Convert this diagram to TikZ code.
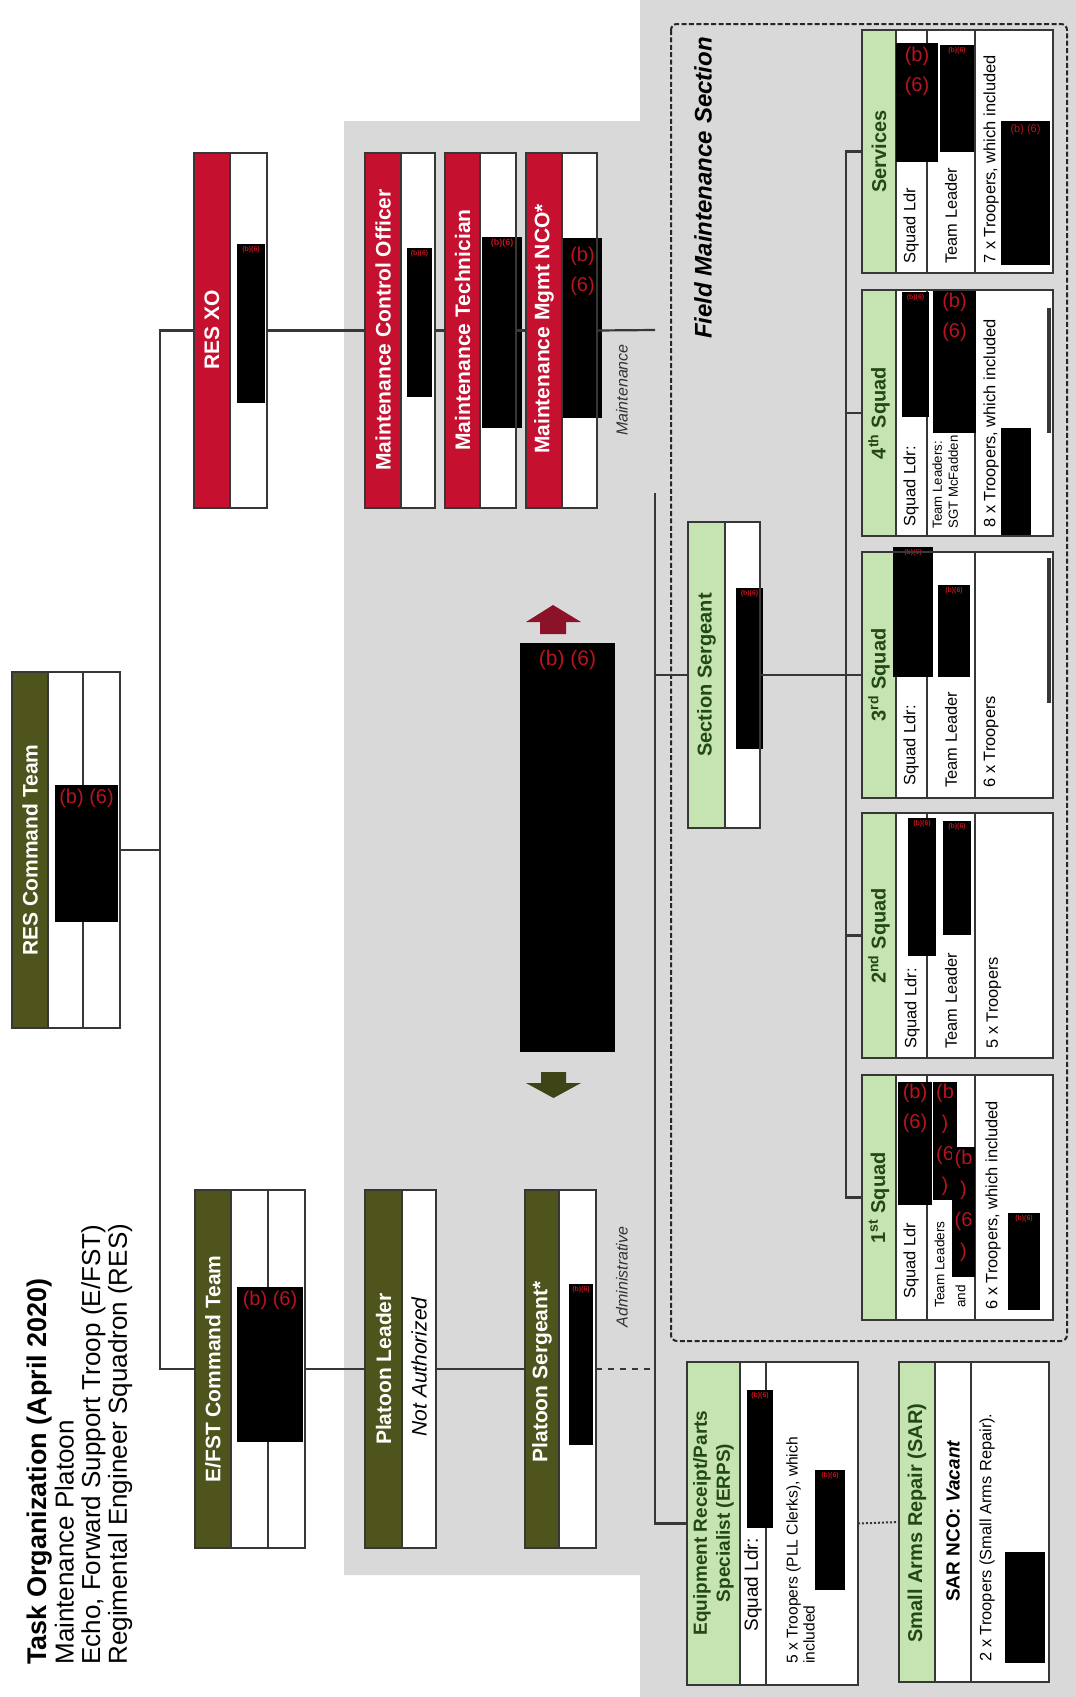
\documentclass[tikz,border=0pt]{standalone}
\usepackage{fontspec}
\setmainfont{Liberation Sans}
\usetikzlibrary{fit}
\definecolor{olivebox}{RGB}{79,84,28}
\definecolor{redbox}{RGB}{198,16,48}
\definecolor{greenbox}{RGB}{198,228,178}
\definecolor{bggray}{RGB}{217,217,217}
\definecolor{lineclr}{RGB}{55,55,55}
\definecolor{redact}{RGB}{185,20,30}
\definecolor{greentext}{RGB}{34,72,22}
\definecolor{arrowred}{RGB}{140,18,42}
\definecolor{arrowolive}{RGB}{62,68,22}
\begin{document}
\begin{tikzpicture}[x=0.5pt,y=-0.5pt,
  boxbg/.style={fill=white,inner sep=0pt,outer sep=0pt},
  boxline/.style={draw=lineclr,line width=1.1pt},
  divline/.style={draw=lineclr,line width=0.8pt},
  conn/.style={draw=lineclr,line width=1.1pt},
  vtext/.style={rotate=90,inner sep=0pt},
  striptxt/.style={vtext,text=white,font=\bfseries\fontsize{10.5}{12}\selectfont},
  greentxt/.style={vtext,text=greentext,align=center,font=\bfseries\fontsize{10}{11.5}\selectfont},
  coltxt/.style={vtext,anchor=west,font=\fontsize{8.2}{9.5}\selectfont},
  smalltxt/.style={vtext,anchor=north west,align=left,font=\fontsize{6.6}{8}\selectfont},
  redlbl/.style={text=redact,anchor=north,inner sep=0pt,align=center,font=\fontsize{10}{15}\selectfont},
  tinylbl/.style={text=redact,anchor=north,inner sep=0pt,font=\bfseries\fontsize{3.5}{4}\selectfont},
  linelbl/.style={vtext,font=\itshape\fontsize{8}{9.5}\selectfont,text=black!80},
]
% background
\fill[white] (0,0) rectangle (1076,1697);
\useasboundingbox (0,0) rectangle (1076,1697);
\fill[bggray] (344,121) -- (640,121) -- (640,0) -- (1076,0) -- (1076,1697) -- (640,1697) -- (640,1575) -- (344,1575) -- cycle;

% title
\node[vtext,anchor=north west,align=left,font=\fontsize{13}{13.3}\selectfont] (title) at (27,1665)
  {{\bfseries\fontsize{13.5}{13.3}\selectfont Task Organization (April 2020)}\\Maintenance Platoon\\Echo, Forward Support Troop (E/FST)\\Regimental Engineer Squadron (RES)};

% RES Command Team
\node[boxbg,fit={(12,672) (120,1028)}] (rescmd) {};
\fill[olivebox] (12,672) rectangle (48,1028);
\draw[divline] (48,672) -- (48,1028) (83,672) -- (83,1028);
\node[striptxt] (rescmd-t) at (30,850) {RES Command Team};
\fill[black] (55,785) rectangle (118,922);
\node[redlbl] (rescmd-r) at (86.5,789) {(b) (6)};
\draw[boxline] (12,672) rectangle (120,1028);

% RES XO
\node[boxbg,fit={(194,153) (267,508)}] (resxo) {};
\fill[redbox] (194,153) rectangle (230,508);
\draw[divline] (230,153) -- (230,508);
\node[striptxt] (resxo-t) at (212,330) {RES XO};
\fill[black] (237,244) rectangle (265,403);
\node[tinylbl] (resxo-r) at (251,246) {(b)(6)};
\draw[boxline] (194,153) rectangle (267,508);

% E/FST Command Team
\node[boxbg,fit={(195,1190) (305,1548)}] (efst) {};
\fill[olivebox] (195,1190) rectangle (231,1548);
\draw[divline] (231,1190) -- (231,1548) (268,1190) -- (268,1548);
\node[striptxt] (efst-t) at (213,1369) {E/FST Command Team};
\fill[black] (237,1287) rectangle (303,1442);
\node[redlbl] (efst-r) at (270,1291) {(b) (6)};
\draw[boxline] (195,1190) rectangle (305,1548);

% Platoon Leader
\node[boxbg,fit={(365,1190) (436,1548)}] (pl) {};
\fill[olivebox] (365,1190) rectangle (402,1548);
\draw[divline] (402,1190) -- (402,1548);
\node[striptxt] (pl-t) at (383.5,1369) {Platoon Leader};
\node[vtext,font=\itshape\fontsize{10.5}{12}\selectfont] (pl-na) at (419,1367) {Not Authorized};
\draw[boxline] (365,1190) rectangle (436,1548);

% Platoon Sergeant
\node[boxbg,fit={(525,1190) (596,1548)}] (psg) {};
\fill[olivebox] (525,1190) rectangle (559,1548);
\draw[divline] (559,1190) -- (559,1548);
\node[striptxt] (psg-t) at (542,1372) {Platoon Sergeant*};
\fill[black] (569,1284) rectangle (593,1445);
\node[tinylbl] (psg-r) at (581,1286) {(b)(6)};
\draw[boxline] (525,1190) rectangle (596,1548);

% Maintenance Control Officer
\node[boxbg,fit={(365,153) (435,508)}] (mco) {};
\fill[redbox] (365,153) rectangle (401,508);
\draw[divline] (401,153) -- (401,508);
\node[striptxt] (mco-t) at (383,330) {Maintenance Control Officer};
\fill[black] (407,248) rectangle (432,397);
\node[tinylbl] (mco-r) at (419.5,250) {(b)(6)};
\draw[boxline] (365,153) rectangle (435,508);

% Maintenance Technician
\node[boxbg,fit={(445,153) (516,508)}] (mt) {};
\fill[redbox] (445,153) rectangle (480,508);
\draw[divline] (480,153) -- (480,508);
\node[striptxt] (mt-t) at (462.5,330) {Maintenance Technician};
\fill[black] (482,237) rectangle (522,428);
\node[tinylbl,font=\bfseries\fontsize{4.5}{5}\selectfont] (mt-r) at (502,239) {(b)(6)};
\draw[boxline] (445,153) rectangle (516,508);

% Maintenance Mgmt NCO
\node[boxbg,fit={(526,153) (597,508)}] (mnco) {};
\fill[redbox] (526,153) rectangle (562,508);
\draw[divline] (562,153) -- (562,508);
\node[striptxt] (mnco-t) at (544,329) {Maintenance Mgmt NCO*};
\fill[black] (563,238) rectangle (602,418);
\node[redlbl] (mnco-r) at (582.5,247) {(b)\\(6)};
\draw[boxline] (526,153) rectangle (597,508);

% central redaction and arrows
\fill[black] (520,643) rectangle (615,1052);
\node[redlbl,font=\fontsize{10.5}{12}\selectfont] (mid-r) at (567.5,650) {(b) (6)};
\fill[arrowred] (553,605) -- (581,622) -- (566,622) -- (566,634) -- (540,634) -- (540,622) -- (526,622) -- cycle;
\fill[arrowolive] (541,1072) -- (566,1072) -- (566,1083) -- (581,1083) -- (553.5,1098) -- (526,1083) -- (541,1083) -- cycle;

% Field Maintenance Section frame
\draw[black!85,line width=1pt,dash pattern=on 2.5pt off 1.2pt,rounded corners=3pt] (671,24) rectangle (1067,1341);
\node[vtext,font=\bfseries\itshape\fontsize{12}{13}\selectfont] (fms-t) at (703,188) {Field Maintenance Section};

% Section Sergeant
\node[boxbg,fit={(688,522) (760,828)}] (secsgt) {};
\fill[greenbox] (688,522) rectangle (725,828);
\draw[divline] (725,522) -- (725,828);
\node[greentxt] (secsgt-t) at (706.5,675) {Section Sergeant};
\fill[black] (736,588) rectangle (763,749);
\node[tinylbl] (secsgt-r) at (749.5,590) {(b)(6)};
\draw[boxline] (688,522) rectangle (760,828);

% Services
\node[boxbg,fit={(862,30) (1053,273)}] (services) {};
\fill[greenbox] (862,30) rectangle (896,273);
\draw[divline] (896,30) -- (896,273) (927,30) -- (927,273) (975,30) -- (975,273);
\node[greentxt] (sv-t) at (879,151.5) {Services};
\node[coltxt] (sv-c2) at (911,264) {Squad Ldr};
\node[coltxt] (sv-c3) at (951,264) {Team Leader};
\node[coltxt] (sv-c4) at (991,264) {7 x Troopers, which included};
\fill[black] (896,43) rectangle (938,162);
\node[redlbl] (sv-r2) at (917,47) {(b)\\(6)};
\fill[black] (940,45) rectangle (974,152);
\node[tinylbl] (sv-r3) at (957,47) {(b)(6)};
\fill[black] (1001,121) rectangle (1050,265);
\node[redlbl,font=\fontsize{5.5}{6}\selectfont] (sv-r4) at (1025.5,124) {(b) (6)};
\draw[boxline] (862,30) rectangle (1053,273);

% 4th Squad
\node[boxbg,fit={(862,290) (1053,536)}] (sq4) {};
\fill[greenbox] (862,290) rectangle (896,536);
\draw[divline] (896,290) -- (896,536) (927,290) -- (927,536) (975,290) -- (975,536);
\node[greentxt] (s4-t) at (879,413) {4\textsuperscript{th} Squad};
\node[coltxt] (s4-c2) at (911,527) {Squad Ldr:};
\node[smalltxt] (s4-c3) at (932,529) {Team Leaders:\\SGT McFadden};
\node[coltxt] (s4-c4) at (991,528) {8 x Troopers, which included};
\fill[black] (902,292) rectangle (929,417);
\node[tinylbl] (s4-r2) at (915.5,294) {(b)(6)};
\fill[black] (933,290) rectangle (976,433);
\node[redlbl] (s4-r3) at (954.5,293) {(b)\\(6)};
\fill[black] (1001,428) rectangle (1031,536);
\draw[lineclr,line width=1.8pt] (1049,308) -- (1049,433);
\draw[boxline] (862,290) rectangle (1053,536);

% 3rd Squad
\node[boxbg,fit={(862,552) (1053,798)}] (sq3) {};
\fill[greenbox] (862,552) rectangle (896,798);
\draw[divline] (896,552) -- (896,798) (927,552) -- (927,798) (975,552) -- (975,798);
\node[greentxt] (s3-t) at (879,675) {3\textsuperscript{rd} Squad};
\node[coltxt] (s3-c2) at (911,786) {Squad Ldr:};
\node[coltxt] (s3-c3) at (951,788) {Team Leader};
\node[coltxt] (s3-c4) at (991,788) {6 x Troopers};
\fill[black] (893,547) rectangle (933,677);
\node[tinylbl] (s3-r2) at (913,549) {(b)(6)};
\fill[black] (938,585) rectangle (970,677);
\node[tinylbl] (s3-r3) at (954,587) {(b)(6)};
\draw[lineclr,line width=1.8pt] (1049,558) -- (1049,703);
\draw[boxline] (862,552) rectangle (1053,798);

% 2nd Squad
\node[boxbg,fit={(862,813) (1053,1058)}] (sq2) {};
\fill[greenbox] (862,813) rectangle (896,1058);
\draw[divline] (896,813) -- (896,1058) (927,813) -- (927,1058) (975,813) -- (975,1058);
\node[greentxt] (s2-t) at (879,936) {2\textsuperscript{nd} Squad};
\node[coltxt] (s2-c2) at (912,1049) {Squad Ldr:};
\node[coltxt] (s2-c3) at (951,1049) {Team Leader};
\node[coltxt] (s2-c4) at (994,1049) {5 x Troopers};
\fill[black] (908,818) rectangle (936,956);
\node[tinylbl] (s2-r2) at (922,820) {(b)(6)};
\fill[black] (943,821) rectangle (971,935);
\node[tinylbl] (s2-r3) at (957,823) {(b)(6)};
\draw[boxline] (862,813) rectangle (1053,1058);

% 1st Squad
\node[boxbg,fit={(862,1075) (1053,1320)}] (sq1) {};
\fill[greenbox] (862,1075) rectangle (896,1320);
\draw[divline] (896,1075) -- (896,1320) (927,1075) -- (927,1320) (975,1075) -- (975,1320);
\node[greentxt] (s1-t) at (879,1198) {1\textsuperscript{st} Squad};
\node[coltxt] (s1-c2) at (911,1299) {Squad Ldr};
\node[smalltxt,font=\fontsize{6.8}{10.5}\selectfont] (s1-c3) at (934,1308) {Team Leaders\\and};
\node[coltxt] (s1-c4) at (993,1310) {6 x Troopers, which included};
\fill[black] (898,1082) rectangle (932,1205);
\node[redlbl] (s1-r2) at (915,1084) {(b)\\(6)};
\fill[black] (933,1082) rectangle (957,1200);
\node[redlbl,font=\fontsize{10}{15.5}\selectfont] (s1-r3) at (945,1084) {(b\\)\\(6\\)};
\fill[black] (952,1147) rectangle (975,1277);
\node[redlbl,font=\fontsize{10}{15.5}\selectfont] (s1-r4) at (963.5,1150) {(b\\)\\(6\\)};
\fill[black] (1008,1213) rectangle (1040,1310);
\node[tinylbl] (s1-r5) at (1024,1215) {(b)(6)};
\draw[boxline] (862,1075) rectangle (1053,1320);

% ERPS
\node[boxbg,fit={(687,1362) (858,1685)}] (erps) {};
\fill[greenbox] (687,1362) rectangle (740,1685);
\draw[divline] (740,1362) -- (740,1685) (766,1362) -- (766,1685);
\node[greentxt,font=\bfseries\fontsize{9.5}{11.5}\selectfont] (erps-t) at (713.5,1523) {Equipment Receipt/Parts\\Specialist (ERPS)};
\node[vtext,font=\fontsize{9.5}{11}\selectfont] (erps-c2) at (753,1585) {Squad Ldr:};
\node[smalltxt,font=\fontsize{7.8}{8.5}\selectfont] (erps-c3) at (786,1664) {5 x Troopers (PLL Clerks), which\\included};
\fill[black] (747,1390) rectangle (773,1528);
\node[tinylbl] (erps-r2) at (760,1392) {(b)(6)};
\fill[black] (815,1470) rectangle (845,1590);
\node[tinylbl] (erps-r3) at (830,1472) {(b)(6)};
\draw[boxline] (687,1362) rectangle (858,1685);

% SAR
\node[boxbg,fit={(899,1362) (1049,1682)}] (sar) {};
\fill[greenbox] (899,1362) rectangle (935,1682);
\draw[divline] (935,1362) -- (935,1682) (971,1362) -- (971,1682);
\node[greentxt] (sar-t) at (917,1523) {Small Arms Repair (SAR)};
\node[vtext,font=\bfseries\fontsize{9.5}{11}\selectfont] (sar-c2) at (953,1521) {SAR NCO: \textit{Vacant}};
\node[coltxt] (sar-c3) at (987,1662) {2 x Troopers (Small Arms Repair).};
\fill[black] (1005,1552) rectangle (1045,1663);
\draw[boxline] (899,1362) rectangle (1049,1682);

% connectors
\coordinate (cmdjoin) at (160,850);
\coordinate (mainttap) at (655,330);
\coordinate (spinetop) at (655,493);
\coordinate (admintap) at (655,1369);
\coordinate (squadjoin) at (846,675);
\draw[conn] (rescmd.east) -- (cmdjoin);
\draw[conn] (resxo.west) -| (cmdjoin) |- (efst.west);
\draw[conn] (efst.east) -- (pl.west);
\draw[conn] (pl.east) -- (psg.west);
\draw[conn,dash pattern=on 3pt off 3pt] (psg.east) -- (admintap);
\draw[conn] (resxo.east) -- (mco.west);
\draw[conn] (mco.east) -- (mt.west);
\draw[conn] (mt.east) -- (mnco.west);
\draw[conn] (mnco.east) -- (mainttap);
\draw[conn] (spinetop) |- (erps.west);
\draw[conn] (spinetop |- secsgt.west) -- (secsgt.west);
\draw[conn] (secsgt.east) -- (squadjoin);
\draw[conn] (services.west) -| (squadjoin) |- (sq1.west);
\draw[conn] (squadjoin |- sq4.west) -- (sq4.west);
\draw[conn] (squadjoin |- sq3.west) -- (sq3.west);
\draw[conn] (squadjoin |- sq2.west) -- (sq2.west);
\draw[lineclr,line width=1pt,densely dotted] (erps.east) -- (sar.west);

% line labels
\node[linelbl] (maint-l) at (622,390) {Maintenance};
\node[linelbl] (admin-l) at (622,1277) {Administrative};
\end{tikzpicture}
\end{document}
